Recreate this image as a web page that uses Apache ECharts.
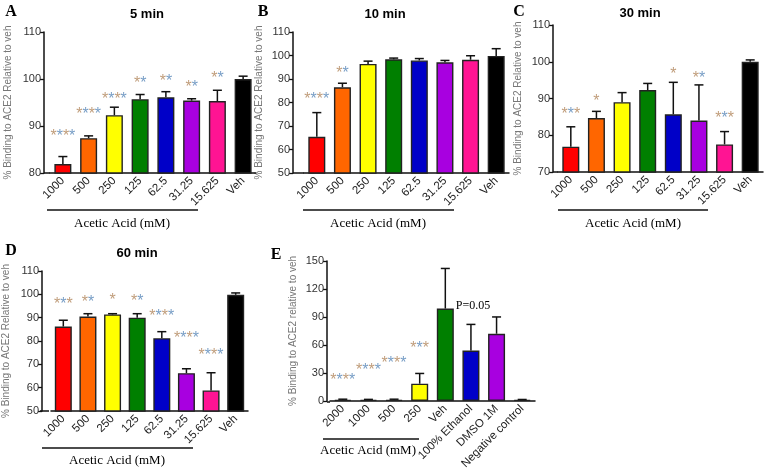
<!DOCTYPE html>
<html><head><meta charset="utf-8">
<script src="https://cdn.jsdelivr.net/npm/echarts@6/dist/echarts.min.js"></script>
<style>html,body{margin:0;padding:0;background:#fff}#c{width:768px;height:472px}</style>
</head><body><div id="c"></div>
<script>
// ---- data ----
const acidCats = ['1000','500','250','125','62.5','31.25','15.625','Veh'];
const eCats = ['2000','1000','500','250','Veh','100% Ethanol','DMSO 1M','Negative control'];

const min5 = [81.9, 87.4, 92.3, 95.7, 96.1, 95.4, 95.3, 100.0];
const min5Sem = [1.6, 0.5, 1.7, 1.0, 1.2, 0.4, 2.3, 0.6];
const min5Sig = ['****','****','****','**','**','**','**',''];
const min5SigY = [88.5, 93.2, 96.4, 99.8, 100.2, 99.1, 100.9, null];

const min10 = [65.4, 86.5, 96.4, 98.4, 97.9, 97.1, 98.2, 99.8];
const min10Sem = [10.3, 1.7, 1.2, 0.5, 0.8, 0.8, 1.7, 3.1];
const min10Sig = ['****','**','','','','','',''];
const min10SigY = [82.8, 94.1, null, null, null, null, null, null];

const min30 = [76.9, 84.7, 89.0, 92.3, 85.7, 84.0, 77.5, 100.0];
const min30Sem = [5.4, 1.8, 2.6, 1.8, 8.7, 9.7, 3.5, 0.5];
const min30Sig = ['***','*','','','*','**','***',''];
const min30SigY = [86.7, 90.3, null, null, 97.5, 96.6, 85.7, null];

const min60 = [86.2, 90.5, 91.4, 90.0, 81.2, 66.2, 58.8, 99.8];
const min60Sem = [2.7, 1.2, 0.3, 1.7, 2.8, 1.9, 7.6, 0.8];
const min60Sig = ['***','**','*','**','****','****','****',''];
const min60SigY = [97.4, 98.1, 99.0, 98.6, 92.0, 82.8, 75.4, null];

const eVals = [1.0, 1.0, 1.0, 18.4, 99.0, 54.0, 72.0, 1.0];
const eSem = [0.8, 0.6, 0.8, 11.0, 43.0, 28.0, 18.0, 0.5];
const eSig = ['****','****','****','***','','','',''];
const eSigY = [26, 36.7, 44.8, 60.8, null, null, null, null];

// ---- styles ----
const acidColors = ['#ff0000','#ff6600','#ffff00','#007f00','#0000c8','#a800e0','#ff1493','#000000'];
const eColors = ['#000000','#000000','#000000','#ffff00','#007f00','#0000c8','#a800e0','#000000'];
const SANS = 'Arial, "Liberation Sans", Helvetica, sans-serif';
const SERIF = '"Times New Roman", "Liberation Serif", serif';

const panels = [
  {cats: acidCats, vals: min5, sem: min5Sem, sig: min5Sig, sigY: min5SigY, colors: acidColors,
   grid: {left: 50, top: 32, width: 206, height: 141}, min: 80, max: 110, interval: 10, offset: 6,
   name: '% Binding to ACE2 Relative to veh', nameGap: 31},
  {cats: acidCats, vals: min10, sem: min10Sem, sig: min10Sig, sigY: min10SigY, colors: acidColors,
   grid: {left: 304, top: 32, width: 205, height: 141}, min: 50, max: 110, interval: 10, offset: 11,
   name: '% Binding to ACE2 Relative to veh', nameGap: 29},
  {cats: acidCats, vals: min30, sem: min30Sem, sig: min30Sig, sigY: min30SigY, colors: acidColors,
   grid: {left: 558, top: 25, width: 205, height: 147}, min: 70, max: 110, interval: 10, offset: 5,
   name: '% Binding to ACE2 Relative to veh', nameGap: 30},
  {cats: acidCats, vals: min60, sem: min60Sem, sig: min60Sig, sigY: min60SigY, colors: acidColors,
   grid: {left: 49, top: 271, width: 199, height: 140}, min: 50, max: 110, interval: 10, offset: 9,
   name: '% Binding to ACE2 Relative to veh', nameGap: 31},
  {cats: eCats, vals: eVals, sem: eSem, sig: eSig, sigY: eSigY, colors: eColors,
   grid: {left: 330, top: 261, width: 205, height: 141}, min: 0, max: 150, interval: 30, offset: 3,
   name: '% Binding to ACE2 relative to veh', nameGap: 29}
];

function starRich(s) {
  let out = '';
  for (let i = 0; i < s.length; i++) out += (i % 2 === 0 ? '{o|*}' : '{b|*}');
  return out;
}

const grids = [], xAxes = [], yAxes = [], series = [];
const axisExt = [];
panels.forEach((p, k) => {
  grids.push(Object.assign({containLabel: false}, p.grid));
  // short piece joining the x axis line to the offset y axis
  const yb = p.grid.top + p.grid.height;
  axisExt.push({type: 'line', silent: true,
    shape: {x1: p.grid.left - p.offset, y1: yb, x2: p.grid.left, y2: yb},
    style: {stroke: '#111', lineWidth: 1.5}});
  xAxes.push({
    type: 'category', gridIndex: k, data: p.cats,
    axisLine: {lineStyle: {color: '#111', width: 1.5}},
    axisTick: {alignWithLabel: true, length: 5, lineStyle: {color: '#111', width: 1.3}},
    axisLabel: {rotate: 45, interval: 0, fontSize: 11.5, color: '#222', fontFamily: SANS, margin: 6},
    splitLine: {show: false}
  });
  yAxes.push({
    type: 'value', gridIndex: k, min: p.min, max: p.max, interval: p.interval, offset: p.offset,
    axisLine: {show: true, lineStyle: {color: '#111', width: 1.5}},
    axisTick: {show: true, length: 4, lineStyle: {color: '#111', width: 1.3}},
    axisLabel: {fontSize: 11, color: '#333', fontFamily: SANS, margin: 3},
    splitLine: {show: false},
    name: p.name, nameLocation: 'middle', nameGap: p.nameGap,
    nameTextStyle: {fontSize: 10, color: '#777', fontFamily: SANS}
  });
  series.push({
    type: 'bar', xAxisIndex: k, yAxisIndex: k, barWidth: 17,
    data: p.vals.map((v, i) => ({value: v, itemStyle: {color: p.colors[i]}})),
    itemStyle: {borderColor: '#222', borderWidth: 1.4},
    silent: true, animation: false
  });
  series.push({
    type: 'custom', xAxisIndex: k, yAxisIndex: k, z: 5,
    data: p.vals.map((v, i) => [i, v, p.sem[i]]),
    encode: {x: 0, y: 1},
    renderItem: function (params, api) {
      const x = api.value(0), y = api.value(1), e = api.value(2);
      const a = api.coord([x, y]), b = api.coord([x, y + e]);
      const st = {stroke: '#111', lineWidth: 1.5};
      return {type: 'group', children: [
        {type: 'line', shape: {x1: a[0], y1: a[1], x2: b[0], y2: b[1]}, style: st},
        {type: 'line', shape: {x1: b[0] - 4.5, y1: b[1], x2: b[0] + 4.5, y2: b[1]}, style: st}
      ]};
    },
    silent: true, animation: false
  });
  series.push({
    type: 'scatter', xAxisIndex: k, yAxisIndex: k, z: 6, symbolSize: 0,
    data: p.sig.map((s, i) => s ? {value: [i, p.sigY[i]], sig: s} : null).filter(d => d),
    label: {
      show: true, position: 'inside', offset: [0, 4],
      formatter: function (d) { return starRich(d.data.sig); },
      rich: {
        o: {color: '#b0845a', fontSize: 16, fontFamily: SANS},
        b: {color: '#5686b8', fontSize: 16, fontFamily: SANS}
      }
    },
    silent: true, animation: false
  });
});

function txt(x, y, t, font, extra) {
  return Object.assign({type: 'text', silent: true,
    style: Object.assign({x: x, y: y, text: t, font: font, fill: '#000', textAlign: 'center', textVerticalAlign: 'middle'}, extra || {})});
}
function hline(x1, x2, y) {
  return {type: 'line', silent: true, shape: {x1: x1, y1: y, x2: x2, y2: y}, style: {stroke: '#111', lineWidth: 1.5}};
}

const graphics = axisExt.concat([
  txt(11, 12, 'A', 'bold 16px ' + SERIF),
  txt(263, 12, 'B', 'bold 16px ' + SERIF),
  txt(519, 12, 'C', 'bold 16px ' + SERIF),
  txt(11, 251, 'D', 'bold 16px ' + SERIF),
  txt(276, 255, 'E', 'bold 16px ' + SERIF),
  txt(147, 14, '5 min', 'bold 13px ' + SANS),
  txt(385, 14, '10 min', 'bold 13px ' + SANS),
  txt(640, 13, '30 min', 'bold 13px ' + SANS),
  txt(137, 253, '60 min', 'bold 13px ' + SANS),
  hline(47, 198, 210), txt(122, 224, 'Acetic Acid (mM)', '13px ' + SERIF),
  hline(303, 454, 210), txt(378, 224, 'Acetic Acid (mM)', '13px ' + SERIF),
  hline(558, 708, 210), txt(633, 224, 'Acetic Acid (mM)', '13px ' + SERIF),
  hline(42, 193, 448), txt(117, 461, 'Acetic Acid (mM)', '13px ' + SERIF),
  hline(323, 419, 439), txt(368, 451, 'Acetic Acid (mM)', '13px ' + SERIF),
  txt(473, 306, 'P=0.05', '12px ' + SERIF)
]);

const chart = echarts.init(document.getElementById('c'), null, {renderer: 'canvas'});
chart.setOption({
  backgroundColor: '#fff', animation: false,
  grid: grids, xAxis: xAxes, yAxis: yAxes, series: series, graphic: graphics
});
</script></body></html>
